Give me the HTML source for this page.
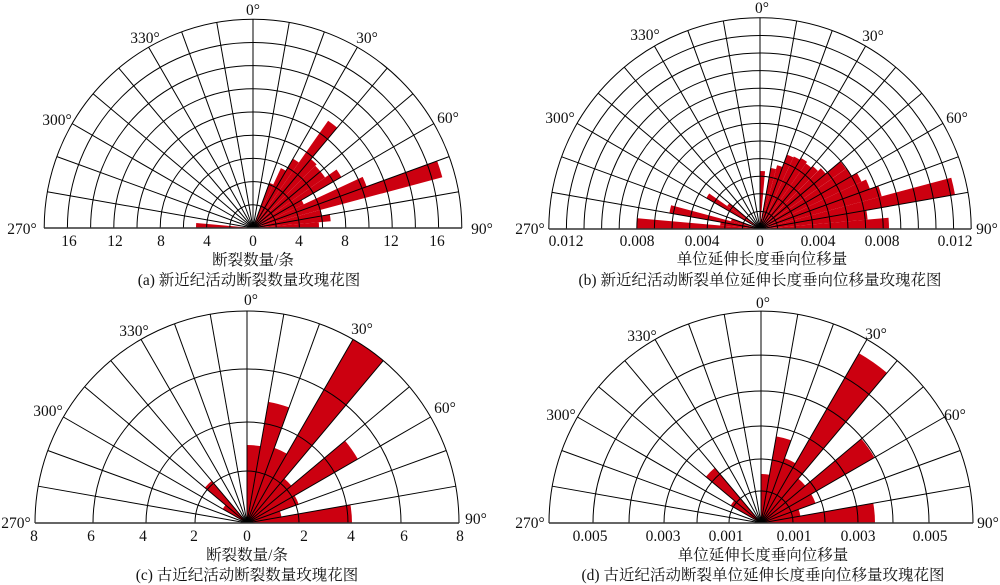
<!DOCTYPE html>
<html><head><meta charset="utf-8">
<style>
html,body{margin:0;padding:0;background:#fff;}
svg{display:block;}
text{font-family:"Liberation Serif","Noto Serif CJK SC",serif;font-size:15.5px;fill:#111;}
.c{text-anchor:middle;}
</style></head>
<body>
<svg id="s" width="1000" height="585" viewBox="0 0 1000 585" xmlns="http://www.w3.org/2000/svg">
<g id="g"></g>
<!-- (a) -->
<text class="c" x="253" y="15">0°</text>
<text class="c" x="145" y="43">330°</text>
<text class="c" x="367" y="43">30°</text>
<text class="c" x="57" y="125">300°</text>
<text class="c" x="448" y="123">60°</text>
<text class="c" x="22" y="234">270°</text>
<text class="c" x="482" y="234">90°</text>
<text class="c" x="69" y="246">16</text>
<text class="c" x="115" y="246">12</text>
<text class="c" x="161" y="246">8</text>
<text class="c" x="207" y="246">4</text>
<text class="c" x="253" y="246">0</text>
<text class="c" x="299" y="246">4</text>
<text class="c" x="345" y="246">8</text>
<text class="c" x="391" y="246">12</text>
<text class="c" x="437" y="246">16</text>
<text class="c" x="253" y="265">断裂数量/条</text>
<text class="c" x="249" y="285">(a) 新近纪活动断裂数量玫瑰花图</text>
<!-- (b) -->
<text class="c" x="762" y="13">0°</text>
<text class="c" x="645" y="40">330°</text>
<text class="c" x="873" y="41">30°</text>
<text class="c" x="560" y="123">300°</text>
<text class="c" x="957" y="123">60°</text>
<text class="c" x="530" y="234">270°</text>
<text class="c" x="987" y="234">90°</text>
<text class="c" x="566" y="246">0.012</text>
<text class="c" x="637" y="246">0.008</text>
<text class="c" x="702" y="246">0.004</text>
<text class="c" x="760" y="246">0</text>
<text class="c" x="818" y="246">0.004</text>
<text class="c" x="882" y="246">0.008</text>
<text class="c" x="955" y="246">0.012</text>
<text class="c" x="762" y="264">单位延伸长度垂向位移量</text>
<text class="c" x="760" y="285">(b) 新近纪活动断裂单位延伸长度垂向位移量玫瑰花图</text>
<!-- (c) -->
<text class="c" x="251" y="305">0°</text>
<text class="c" x="134" y="336">330°</text>
<text class="c" x="362" y="334">30°</text>
<text class="c" x="48" y="416">300°</text>
<text class="c" x="445" y="413">60°</text>
<text class="c" x="16" y="528">270°</text>
<text class="c" x="476" y="524">90°</text>
<text class="c" x="34" y="541">8</text>
<text class="c" x="91" y="541">6</text>
<text class="c" x="143" y="541">4</text>
<text class="c" x="194" y="541">2</text>
<text class="c" x="247" y="541">0</text>
<text class="c" x="304" y="541">2</text>
<text class="c" x="351" y="541">4</text>
<text class="c" x="404" y="541">6</text>
<text class="c" x="460" y="541">8</text>
<text class="c" x="247" y="560">断裂数量/条</text>
<text class="c" x="247" y="580">(c) 古近纪活动断裂数量玫瑰花图</text>
<!-- (d) -->
<text class="c" x="763" y="308">0°</text>
<text class="c" x="642" y="341">330°</text>
<text class="c" x="876" y="339">30°</text>
<text class="c" x="561" y="420">300°</text>
<text class="c" x="955" y="420">60°</text>
<text class="c" x="530" y="528">270°</text>
<text class="c" x="988" y="528">90°</text>
<text class="c" x="590" y="541">0.005</text>
<text class="c" x="663" y="541">0.003</text>
<text class="c" x="726" y="541">0.001</text>
<text class="c" x="794" y="541">0.001</text>
<text class="c" x="858" y="541">0.003</text>
<text class="c" x="930" y="541">0.005</text>
<text class="c" x="763" y="560">单位延伸长度垂向位移量</text>
<text class="c" x="763" y="580">(d) 古近纪活动断裂单位延伸长度垂向位移量玫瑰花图</text>
</svg>
<script>
var NS="http://www.w3.org/2000/svg",G=document.getElementById("g");
function el(t,a){var e=document.createElementNS(NS,t);for(var k in a)e.setAttribute(k,a[k]);G.appendChild(e);return e;}
function pt(cx,cy,r,d){var t=d*Math.PI/180;return[cx+r*Math.sin(t),cy-r*Math.cos(t)];}
function panel(cx,cy,R,rings,bars){
  bars.forEach(function(b){
    var a1=b[0],a2=b[0]+b[1],r=b[2];
    var p1=pt(cx,cy,r,a1),p2=pt(cx,cy,r,a2);
    el("path",{d:"M"+cx+","+cy+"L"+p1[0]+","+p1[1]+"A"+r+","+r+" 0 0 1 "+p2[0]+","+p2[1]+"Z",fill:"#cc0010"});
  });
  rings.forEach(function(r){
    el("path",{d:"M"+(cx-r)+","+cy+"A"+r+","+r+" 0 0 1 "+(cx+r)+","+cy,fill:"none",stroke:"#000","stroke-width":1});
  });
  for(var a=-90;a<=90;a+=10){var p=pt(cx,cy,R,a);el("line",{x1:cx,y1:cy,x2:p[0],y2:p[1],stroke:"#000","stroke-width":1});}
  el("line",{x1:cx-R,y1:cy,x2:cx+R,y2:cy,stroke:"#333","stroke-width":1.5});
}
var ra=[];for(var k=1;k<=9;k++)ra.push(k*23.2);
panel(253,228,209,ra,[[20,5,48],[25,5,66],[30,5,80],[35,5,131],[40,5,90],[45,5,88],[50,5,88],[55,5,102],[60,5,56],[65,5,121],[70,5,196],[75,5,70],[80,5,78],[85,5,66],[270,5,57]]);
var rb=[];for(k=1;k<=12;k++)rb.push(k*17.6);
panel(760,229,211,rb,[[0,5,58],[5,5,10],[10,5,62],[15,5,66],[20,5,79],[25,5,80],[30,5,82],[35,5,80],[40,5,82],[45,5,86],[50,5,105],[55,5,106],[60,5,112],[65,5,117],[70,5,126],[75,5,198],[80,5,108],[85,5,129],[270,5,123],[275,5,40],[280,5,92],[285,5,30],[300,5,62],[305,5,40]]);
panel(247,523,212,[52,101,154,212],[[0,10,78],[10,10,123],[20,10,80],[30,10,212],[40,10,58],[50,10,128],[60,10,55],[70,10,35],[80,10,105],[300,10,28],[310,10,55]]);
panel(761,523,212,[32,64,97,132,168,212],[[0,10,49],[10,10,88],[20,10,69],[30,10,196],[40,10,58],[50,10,131],[60,10,58],[70,10,40],[80,10,114],[300,10,35],[310,10,72]]);
</script>
</body></html>
